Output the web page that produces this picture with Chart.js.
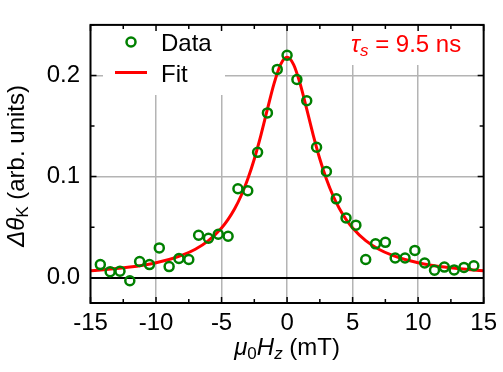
<!DOCTYPE html>
<html>
<head>
<meta charset="utf-8">
<script src="https://cdn.jsdelivr.net/npm/chart.js@4.4.1/dist/chart.umd.min.js"></script>
<style>
  html, body { margin: 0; padding: 0; background: #fff; }
</style>
</head>
<body>
<canvas id="hanleChart" width="503" height="372"></canvas>
<script>
// measured Kerr signal vs field
const fieldMT = [-14.25, -13.5, -12.75, -12, -11.25, -10.5, -9.75, -9, -8.25, -7.5, -6.75, -6, -5.25, -4.5, -3.75, -3, -2.25, -1.5, -0.75, 0,
                 0.75, 1.5, 2.25, 3, 3.75, 4.5, 5.25, 6, 6.75, 7.5, 8.25, 9, 9.75, 10.5, 11.25, 12, 12.75, 13.5, 14.25];
const kerrSignal = [0.013, 0.006, 0.0065, -0.003, 0.016, 0.013, 0.0295, 0.011, 0.019, 0.018, 0.042, 0.039, 0.043, 0.041, 0.088, 0.086, 0.124, 0.163, 0.206, 0.220,
                    0.196, 0.175, 0.129, 0.105, 0.078, 0.059, 0.052, 0.018, 0.0335, 0.035, 0.0195, 0.0195, 0.027, 0.0146, 0.0074, 0.0105, 0.0077, 0.0102, 0.0118];

// fit curve
const fitField = [-15, -14, -13, -12, -11, -10, -9, -8, -7, -6, -5, -4.5, -4, -3.5, -3, -2.5, -2, -1.5, -1, -0.5, 0,
                  0.5, 1, 1.5, 2, 2.5, 3, 3.5, 4, 4.5, 5, 6, 7, 8, 9, 10, 11, 12, 13, 14, 15];
const fitSignal = [0.0068, 0.0078, 0.0090, 0.0105, 0.0124, 0.0148, 0.0180, 0.0223, 0.0282, 0.0367, 0.0492, 0.0577, 0.0682, 0.0813, 0.0976, 0.1174, 0.1408, 0.1666, 0.1917, 0.2108, 0.2180,
                   0.2108, 0.1917, 0.1666, 0.1408, 0.1174, 0.0976, 0.0813, 0.0682, 0.0577, 0.0492, 0.0367, 0.0282, 0.0223, 0.0180, 0.0148, 0.0124, 0.0105, 0.0090, 0.0078, 0.0068];

const xTicks = [-15, -10, -5, 0, 5, 10, 15];
const yTicks = [0, 0.1, 0.2];

const FONT = '"Liberation Sans", Arial, sans-serif';
const GREEN = '#008000';
const RED = '#ff0000';
const GRID = '#b4b4b4';

function font(p) {
    return (p.italic ? 'italic ' : '') + (p.size || 24) + 'px ' + FONT;
}

// draw mixed text (italic / subscript) left to right, returns width
function richWidth(ctx, parts) {
    let w = 0;
    parts.forEach(p => { ctx.font = font(p); w += ctx.measureText(p.t).width; });
    return w;
}
function drawRich(ctx, parts, x, y) {
    ctx.textAlign = 'left';
    ctx.textBaseline = 'alphabetic';
    parts.forEach(p => {
        ctx.font = font(p);
        ctx.fillText(p.t, x, y + (p.dy || 0));
        x += ctx.measureText(p.t).width;
    });
}

const decor = {
    id: 'decor',
    beforeDatasetsDraw(chart) {
        const ctx = chart.ctx;
        ctx.save();
        ctx.fillStyle = '#fff';
        ctx.fillRect(103, 20, 122, 75);   // legend box
        ctx.fillRect(343, 22, 132, 43);   // tau label box
        ctx.restore();
    },
    afterDraw(chart) {
        const ctx = chart.ctx;
        const a = chart.chartArea;
        const xs = chart.scales.x, ys = chart.scales.y;
        ctx.save();

        // frame
        ctx.strokeStyle = '#000';
        ctx.lineWidth = 2;
        ctx.strokeRect(a.left, a.top, a.right - a.left, a.bottom - a.top);

        // inward ticks on all four sides
        ctx.lineWidth = 1.5;
        ctx.beginPath();
        for (let v = -15; v <= 15; v += 2.5) {
            const px = xs.getPixelForValue(v);
            const len = (v % 5 === 0) ? 6 : 4;
            ctx.moveTo(px, a.bottom); ctx.lineTo(px, a.bottom - len);
            ctx.moveTo(px, a.top); ctx.lineTo(px, a.top + len);
        }
        for (let k = 0; k <= 5; k++) {
            const v = k * 0.05;
            const py = ys.getPixelForValue(v);
            const len = (k % 2 === 0) ? 6 : 4;
            ctx.moveTo(a.left, py); ctx.lineTo(a.left + len, py);
            ctx.moveTo(a.right, py); ctx.lineTo(a.right - len, py);
        }
        ctx.stroke();

        // legend
        ctx.strokeStyle = GREEN;
        ctx.lineWidth = 2.5;
        ctx.beginPath();
        ctx.arc(131, 42, 4.5, 0, Math.PI * 2);
        ctx.stroke();
        ctx.strokeStyle = RED;
        ctx.lineWidth = 3;
        ctx.beginPath();
        ctx.moveTo(115, 72.5); ctx.lineTo(147, 72.5);
        ctx.stroke();
        ctx.fillStyle = '#000';
        drawRich(ctx, [{ t: 'Data' }], 161, 51);
        drawRich(ctx, [{ t: 'Fit' }], 161, 82);

        // spin lifetime label
        ctx.fillStyle = RED;
        drawRich(ctx, [{ t: 'τ', italic: true }, { t: 's', italic: true, size: 17, dy: 4 }, { t: ' = 9.5 ns' }], 351, 52);

        // axis titles
        ctx.fillStyle = '#000';
        const xt = [{ t: 'μ', italic: true }, { t: '0', size: 17, dy: 4 }, { t: 'H', italic: true }, { t: 'z', italic: true, size: 17, dy: 4 }, { t: ' (mT)' }];
        drawRich(ctx, xt, (a.left + a.right) / 2 - richWidth(ctx, xt) / 2, 355);

        const yt = [{ t: 'Δθ', italic: true }, { t: 'K', size: 17, dy: 4 }, { t: ' (arb. units)' }];
        ctx.translate(24, (a.top + a.bottom) / 2 + 2);
        ctx.rotate(-Math.PI / 2);
        drawRich(ctx, yt, -richWidth(ctx, yt) / 2, 0);

        ctx.restore();
    }
};

new Chart(document.getElementById('hanleChart'), {
    type: 'scatter',
    data: {
        datasets: [
            {
                label: 'Data',
                data: fieldMT.map((x, i) => ({ x: x, y: kerrSignal[i] })),
                pointStyle: 'circle',
                pointRadius: 4.5,
                borderWidth: 2.5,
                borderColor: GREEN,
                backgroundColor: 'rgba(0,0,0,0)',
                order: 0
            },
            {
                label: 'Fit',
                data: fitField.map((x, i) => ({ x: x, y: fitSignal[i] })),
                showLine: true,
                cubicInterpolationMode: 'monotone',
                borderColor: RED,
                borderWidth: 3,
                pointRadius: 0,
                order: 1
            }
        ]
    },
    options: {
        responsive: false,
        devicePixelRatio: 1,
        animation: false,
        layout: { padding: { top: 7, right: 13.5, left: 0, bottom: 0 } },
        plugins: { legend: { display: false }, tooltip: { enabled: false } },
        scales: {
            x: {
                type: 'linear',
                min: -15,
                max: 15,
                afterBuildTicks: s => { s.ticks = xTicks.map(v => ({ value: v })); },
                afterFit: s => { s.height = 69; },
                border: { display: false },
                grid: {
                    drawTicks: false,
                    lineWidth: 1.5,
                    color: c => (c.tick && c.tick.value > -15 && c.tick.value < 15) ? GRID : 'rgba(0,0,0,0)'
                },
                ticks: {
                    color: '#000',
                    font: { family: FONT, size: 24 },
                    padding: 6,
                    maxRotation: 0,
                    autoSkip: false,
                    callback: v => String(v)
                }
            },
            y: {
                type: 'linear',
                min: -0.025,
                max: 0.25,
                afterBuildTicks: s => { s.ticks = yTicks.map(v => ({ value: v })); },
                afterFit: s => { s.width = 90.5; },
                border: { display: false },
                grid: {
                    drawTicks: false,
                    lineWidth: c => (c.tick && c.tick.value === 0) ? 2 : 1.5,
                    color: c => (c.tick && c.tick.value === 0) ? '#000' : GRID
                },
                ticks: {
                    color: '#000',
                    font: { family: FONT, size: 24 },
                    padding: 10.5,
                    callback: v => v.toFixed(1)
                }
            }
        }
    },
    plugins: [decor]
});
</script>
</body>
</html>
